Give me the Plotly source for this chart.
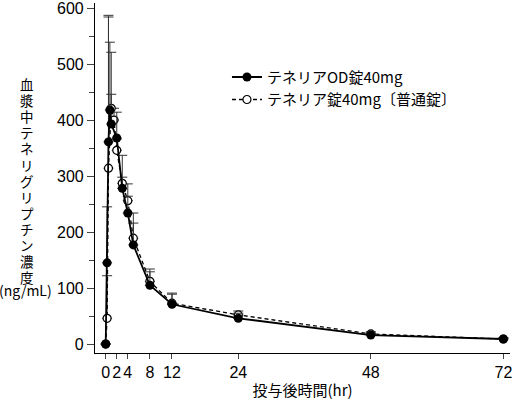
import plotly.graph_objects as go

# Time points (hr)
t_od = [0, 0.25, 0.5, 0.75, 1, 2, 3, 4, 5, 8, 12, 24, 48, 72]
conc_od = [0, 145, 361, 418, 393, 368, 278, 234, 177, 105, 71, 46, 16, 9]
sd_od = [0, 100, 226, 121, 53, 46, 20, 30, 39, 24, 18, 9, 4, 2]

t_rg = [0, 0.25, 0.5, 1, 1.5, 2, 3, 4, 5, 8, 12, 24, 48, 72]
conc_rg = [0, 46, 314, 421, 400, 346, 287, 256, 189, 112, 73, 52, 18, 9]
sd_rg = [0, 76, 270, 100, 21, 20, 50, 30, 45, 22, 18, 7, 4, 2]

name_od = "テネリアOD錠40mg"
name_rg = "テネリア錠40mg〔普通錠〕"

x_ticks = [0, 2, 4, 8, 12, 24, 48, 72]
y_ticks = [0, 100, 200, 300, 400, 500, 600]

x_title = "投与後時間(hr)"
y_title_chars = "血漿中テネリグリプチン濃度"
y_unit = "(ng/mL)"

JP = "Noto Sans CJK JP"
H, T_M, B_M = 400, 3, 47
PH = H - T_M - B_M


def py(pixel_y):
    return 1 - (pixel_y - T_M) / PH


fig = go.Figure()
fig.add_trace(go.Scatter(
    x=t_rg, y=conc_rg, name=name_rg, mode="lines+markers", legendrank=2,
    line=dict(color="black", width=1.3, dash="4px,3px"),
    marker=dict(symbol="circle", size=8, color="white", line=dict(color="black", width=1.2)),
    error_y=dict(type="data", array=sd_rg, arrayminus=[0] * len(sd_rg), symmetric=False,
                 color="#333", thickness=1, width=5),
))
fig.add_trace(go.Scatter(
    x=t_od, y=conc_od, name=name_od, mode="lines+markers", legendrank=1,
    line=dict(color="black", width=1.8),
    marker=dict(symbol="circle", size=9, color="black"),
    error_y=dict(type="data", array=sd_od, arrayminus=[0] * len(sd_od), symmetric=False,
                 color="#333", thickness=1, width=5),
))

fig.update_layout(
    width=514, height=H,
    margin=dict(l=95, r=4, t=T_M, b=B_M, autoexpand=False),
    paper_bgcolor="white", plot_bgcolor="white",
    font=dict(family=JP, size=15, color="black"),
    showlegend=True,
    legend=dict(x=0.318, y=0.835, xanchor="left", yanchor="top",
                font=dict(family=JP, size=15), tracegroupgap=4,
                bgcolor="rgba(0,0,0,0)"),
    xaxis=dict(range=[-1.94, 73.2], tickvals=x_ticks, ticks="outside", ticklen=5,
               showline=True, linecolor="black", linewidth=1.2, showgrid=False, zeroline=False,
               automargin=False, ticklabeloverflow="allow",
               tickfont=dict(family="Liberation Sans", size=16),
               title=dict(text=x_title, font=dict(family=JP, size=15), standoff=6)),
    yaxis=dict(range=[-16, 609], tickvals=y_ticks, ticks="outside", ticklen=7,
               showline=True, linecolor="black", linewidth=1.2, showgrid=False, zeroline=False,
               automargin=False, ticklabeloverflow="allow",
               tickfont=dict(family="Liberation Sans", size=16),
               minor=dict(dtick=50, ticks="outside", ticklen=5, showgrid=False)),
)

for i, ch in enumerate(y_title_chars):
    fig.add_annotation(xref="paper", yref="paper", x=-0.164, y=py(84 + 16.1 * i),
                       xanchor="center", yanchor="middle", text=ch, showarrow=False,
                       font=dict(family=JP, size=13.5))
fig.add_annotation(xref="paper", yref="paper", x=-0.168, y=py(290), xanchor="center", yanchor="middle",
                   text=y_unit, showarrow=False, font=dict(family=JP, size=14))

fig.write_html("out.html", config={"displayModeBar": False},
               post_script="document.body.style.margin='0';document.body.style.overflow='hidden';")
